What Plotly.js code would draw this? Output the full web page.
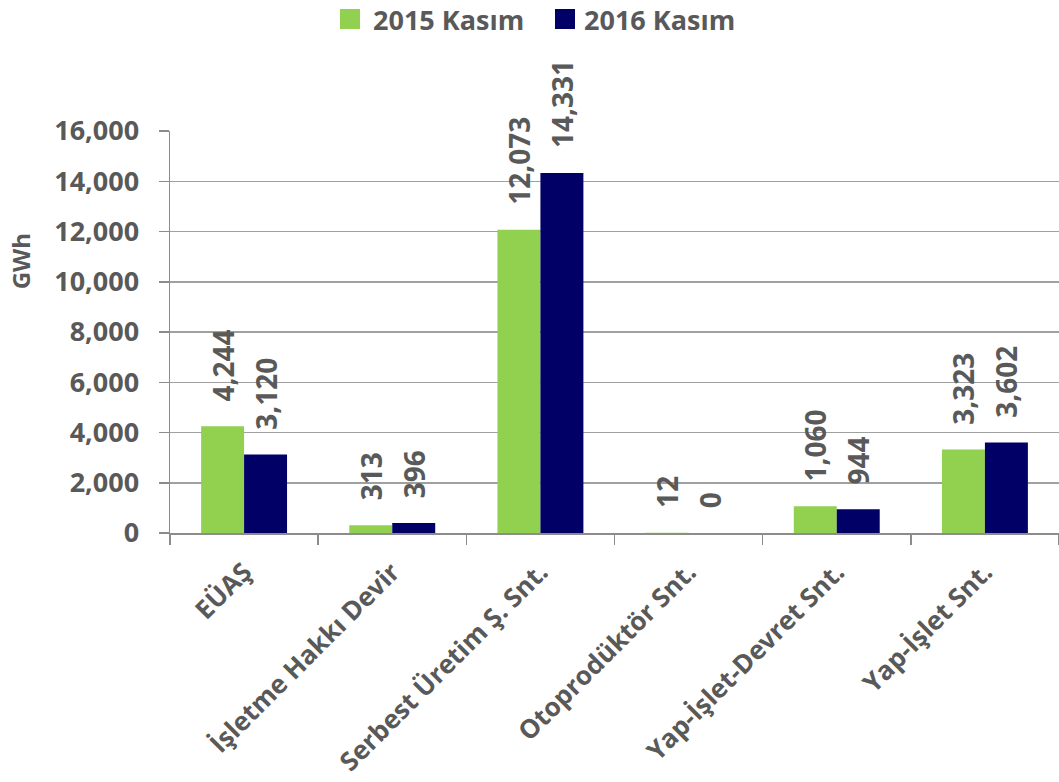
<!DOCTYPE html>
<html>
<head>
<meta charset="utf-8">
<script src="https://cdn.plot.ly/plotly-3.0.1.min.js"></script>
<style>html,body{margin:0;padding:0;background:#fff;}#chart{width:1059px;height:782px;}</style>
</head>
<body>
<div id="chart"></div>
<script>
const categories = ["EÜAŞ", "İşletme Hakkı Devir", "Serbest Üretim Ş. Snt.", "Otoprodüktör Snt.", "Yap-İşlet-Devret Snt.", "Yap-İşlet Snt."];
const series2015 = [4244, 313, 12073, 12, 1060, 3323];
const series2016 = [3120, 396, 14331, 0, 944, 3602];
const seriesNames = ["2015 Kasım", "2016 Kasım"];
const seriesColors = ["#92D050", "#000066"];
const yTickVals = [0, 2000, 4000, 6000, 8000, 10000, 12000, 14000, 16000];
const yTitle = "GWh";

const FONT = "Open Sans, Liberation Sans, sans-serif";
const GREY = "#595959";

function barTrace(name, vals, color) {
  return {
    type: "bar",
    name: name,
    x: categories,
    y: vals,
    marker: {color: color},
    texttemplate: "\u00a0\u00a0\u00a0%{y:,}",
    textposition: "outside",
    textangle: -90,
    constraintext: "none",
    cliponaxis: false,
    textfont: {family: FONT, size: 28, color: GREY, weight: "bold"},
    hoverinfo: "x+y",
    showlegend: false
  };
}

const data = [
  barTrace(seriesNames[0], series2015, seriesColors[0]),
  barTrace(seriesNames[1], series2016, seriesColors[1])
];

// Legend drawn in paper coordinates above the plot area
const legendItems = [
  {sq: [0.1912, 0.2137], tx: 0.2272},
  {sq: [0.4331, 0.4556], tx: 0.4646}
];
const shapes = legendItems.map((it, i) => ({
  type: "rect", xref: "paper", yref: "paper",
  x0: it.sq[0], x1: it.sq[1], y0: 1.2537, y1: 1.3035,
  fillcolor: seriesColors[i], line: {width: 0}
}));
const annotations = legendItems.map((it, i) => ({
  text: seriesNames[i], xref: "paper", yref: "paper",
  x: it.tx, y: 1.2786, xanchor: "left", yanchor: "middle",
  showarrow: false, borderpad: 0,
  font: {family: FONT, size: 27, color: GREY, weight: "bold"}
}));
annotations.push({
  text: yTitle,
  xref: "paper", yref: "paper",
  x: -0.168, y: 0.675,
  xanchor: "center", yanchor: "middle",
  textangle: -90,
  showarrow: false,
  font: {family: FONT, size: 24, color: GREY, weight: "bold"}
});

const layout = {
  width: 1059,
  height: 782,
  margin: {l: 170, r: 0, t: 131, b: 249},
  paper_bgcolor: "#fff",
  plot_bgcolor: "#fff",
  barmode: "group",
  bargap: 0.42,
  bargroupgap: 0,
  font: {family: FONT, color: GREY},
  showlegend: false,
  xaxis: {
    type: "category",
    tickangle: -45,
    tickfont: {family: FONT, size: 26, color: GREY, weight: "bold"},
    ticklabelstandoff: 12,
    showline: true,
    linecolor: "#8c8c8c",
    linewidth: 1.5,
    ticks: "outside",
    tickson: "boundaries",
    ticklen: 10,
    tickcolor: "#8c8c8c",
    tickwidth: 1.5,
    showgrid: false,
    zeroline: false
  },
  yaxis: {
    range: [0, 16000],
    tickvals: yTickVals,
    tickformat: ",",
    tickfont: {family: FONT, size: 27, color: GREY, weight: "bold"},
    ticklabelstandoff: 14,
    showline: true,
    linecolor: "#8c8c8c",
    linewidth: 1.5,
    ticks: "outside",
    ticklen: 10,
    tickcolor: "#8c8c8c",
    tickwidth: 1.5,
    showgrid: true,
    gridcolor: "#a0a0a0",
    gridwidth: 1.5,
    zeroline: false
  },
  shapes: shapes,
  annotations: annotations
};

Plotly.newPlot("chart", data, layout, {displayModeBar: false, staticPlot: true});
</script>
</body>
</html>
